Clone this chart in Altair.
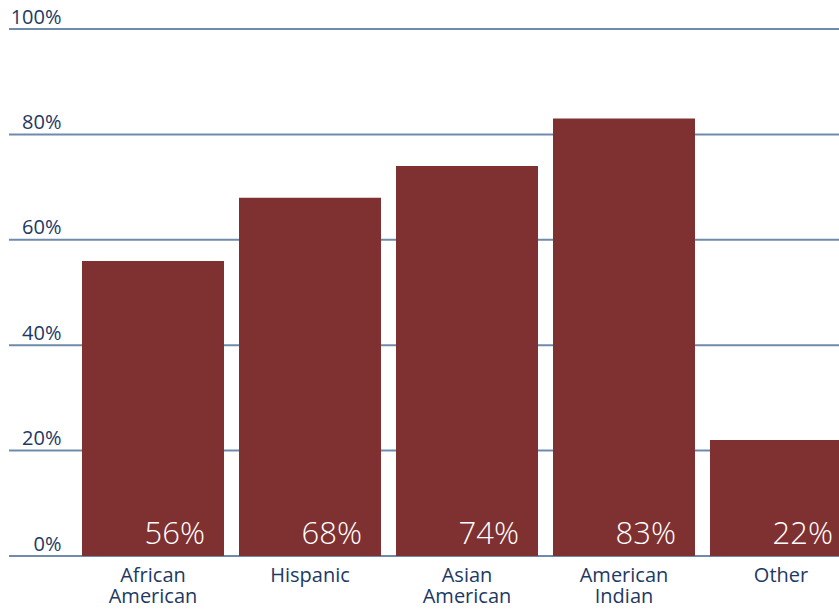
import altair as alt
import pandas as pd

# Share of each group, in percent
groups = ["African American", "Hispanic", "Asian American", "American Indian", "Other"]
shares = [56, 68, 74, 83, 22]
y_ticks = [0, 20, 40, 60, 80, 100]

df = pd.DataFrame({"group": groups, "share": shares})
df["label"] = df["share"].astype(str) + "%"
grid_df = pd.DataFrame({"tick": y_ticks})

NAVY = "#1d3a63"
GRID = "#6f8bab"
BAR = "#7f3030"
FONT = "Open Sans"
PLOT_W = 830

y_scale = alt.Scale(domain=[0, 100], nice=False)

x = alt.X(
    "group:N",
    sort=groups,
    scale=alt.Scale(range=[65.5, 850.5], paddingInner=0.0955, paddingOuter=0.0478),
    axis=alt.Axis(
        title=None,
        domain=False,
        ticks=False,
        labelAngle=0,
        labelFont=FONT,
        labelFontSize=20,
        labelColor=NAVY,
        labelPadding=9,
        labelLineHeight=21,
        labelBaseline="top",
        labelExpr="split(datum.label, ' ')",
    ),
)

y = alt.Y(
    "share:Q",
    scale=y_scale,
    axis=alt.Axis(
        title=None,
        values=y_ticks,
        domain=False,
        ticks=False,
        grid=False,
        labelFont=FONT,
        labelFontSize=20,
        labelColor=NAVY,
        labelPadding=-52,
        labelAlign="right",
        labelBaseline="bottom",
        labelOffset=-2,
        labelOverlap=False,
        labelExpr="datum.value + '%'",
    ),
)

# Horizontal gridlines across the full plot width
grid = alt.Chart(grid_df).mark_rule(color=GRID, strokeWidth=2).encode(
    y=alt.Y("tick:Q", scale=y_scale),
    x=alt.value(0),
    x2=alt.value(PLOT_W),
)

bars = alt.Chart(df).mark_bar(color=BAR, clip=True).encode(x=x, y=y)

values = alt.Chart(df).mark_text(
    color="white",
    font=FONT,
    fontSize=31,
    fontWeight=300,
    align="right",
    baseline="alphabetic",
    dx=52,
    dy=-12,
    clip=True,
).encode(
    x=alt.X("group:N", sort=groups),
    y=alt.datum(0),
    text="label:N",
)

chart = (
    alt.layer(grid, bars, values)
    .properties(
        width=PLOT_W,
        height=527,
        autosize=alt.AutoSizeParams(type="none"),
        padding={"left": 9, "top": 29, "right": 0, "bottom": 53},
        background="white",
    )
    .configure_view(stroke=None)
)

chart.save("out.html", embed_options={"renderer": "svg", "actions": False})
